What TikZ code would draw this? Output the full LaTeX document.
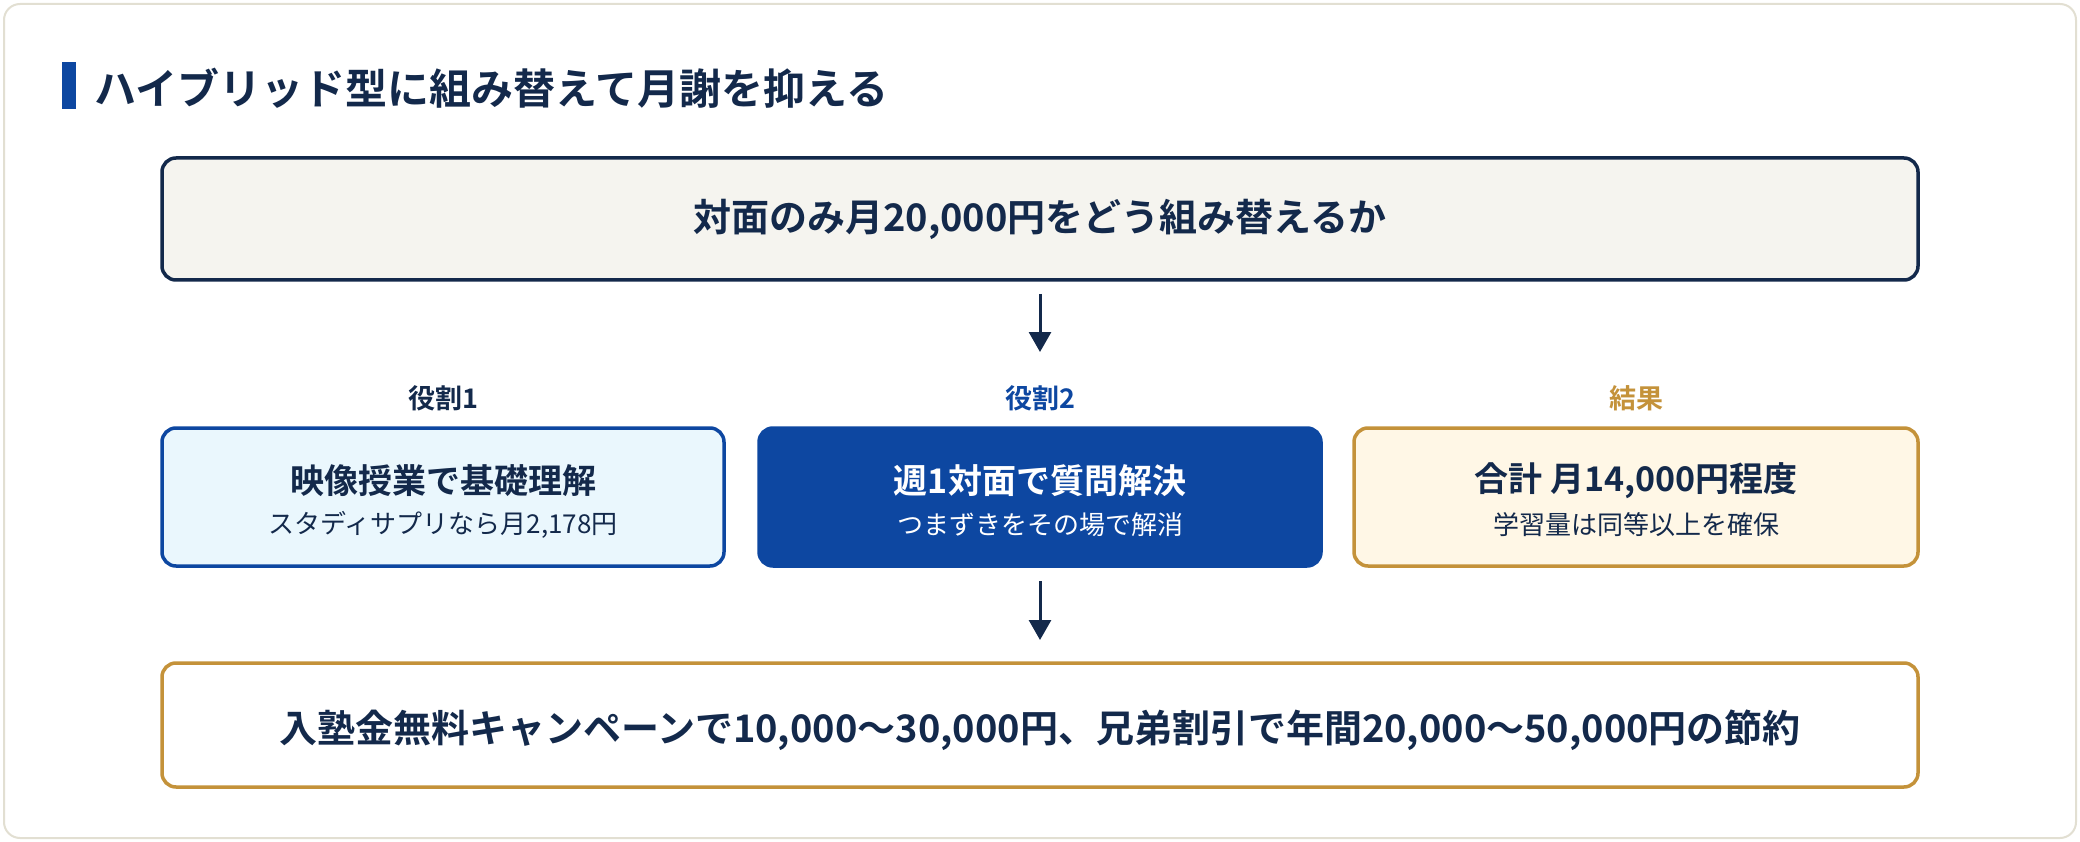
\documentclass[tikz,border=0pt]{standalone}
\usepackage{fontspec}
\setmainfont{Noto Sans CJK JP}[BoldFont={Noto Sans CJK JP Bold}]
\usetikzlibrary{arrows.meta}
\definecolor{navy}{HTML}{13294B}
\definecolor{blu}{HTML}{0D47A1}
\definecolor{gold}{HTML}{C4923A}
\definecolor{cream}{HTML}{F5F4EF}
\definecolor{lblue}{HTML}{EAF7FD}
\definecolor{lgold}{HTML}{FFF7E6}
\definecolor{edge}{HTML}{E2DFD2}
\begin{document}
\begin{tikzpicture}[x=1pt,y=-1pt,
  box/.style={draw,line width=3.5pt,rounded corners=14pt},
  arr/.style={draw=navy,line width=3pt,-{Triangle[length=20pt,width=22pt]}},
  lab/.style={font=\bfseries\fontsize{27}{31}\selectfont}]
\useasboundingbox (0,0) rectangle (2080,842);
\draw[edge,line width=2pt,fill=white,rounded corners=16pt] (4,4) rectangle (2076,838);
\fill[blu] (62,62) rectangle (76,109);
\node[anchor=west,text=navy,font=\bfseries\fontsize{42}{48}\selectfont] (title) at (91,88) {ハイブリッド型に組み替えて月謝を抑える};
\draw[box,draw=navy,fill=cream] (162,158) rectangle (1918,280);
\node[text=navy,font=\bfseries\fontsize{38}{44}\selectfont] (top) at (1040,219) {対面のみ月20,000円をどう組み替えるか};
\coordinate (a1s) at (1040,294); \coordinate (a1e) at (1040,352);
\draw[arr] (a1s) -- (a1e);
\node[lab,text=navy] (l1) at (443,398) {役割1};
\node[lab,text=blu] (l2) at (1040,398) {役割2};
\node[lab,text=gold] (l3) at (1636,398) {結果};
\draw[box,draw=blu,fill=lblue] (162,428) rectangle (724,566);
\draw[box,draw=blu,fill=blu] (759,428) rectangle (1321,566);
\draw[box,draw=gold,fill=lgold] (1354,428) rectangle (1918,566);
\node[text=navy,font=\bfseries\fontsize{34}{40}\selectfont] (m1) at (443,481) {映像授業で基礎理解};
\node[text=navy,font=\fontsize{26}{30}\selectfont] (s1) at (443,525) {スタディサプリなら月2,178円};
\node[text=white,font=\bfseries\fontsize{34}{40}\selectfont] (m2) at (1040,481) {週1対面で質問解決};
\node[text=white,font=\fontsize{26}{30}\selectfont] (s2) at (1040,525) {つまずきをその場で解消};
\node[text=navy,font=\bfseries\fontsize{34}{40}\selectfont] (m3) at (1636,481) {合計 月14,000円程度};
\node[text=navy,font=\fontsize{26}{30}\selectfont] (s3) at (1636,525) {学習量は同等以上を確保};
\coordinate (a2s) at (1040,581); \coordinate (a2e) at (1040,640);
\draw[arr] (a2s) -- (a2e);
\draw[box,draw=gold,fill=white] (162,663) rectangle (1918,787);
\node[text=navy,font=\bfseries\fontsize{38}{44}\selectfont] (bot) at (1040,730) {入塾金無料キャンペーンで10,000～30,000円、兄弟割引で年間20,000～50,000円の節約};
\end{tikzpicture}
\end{document}
